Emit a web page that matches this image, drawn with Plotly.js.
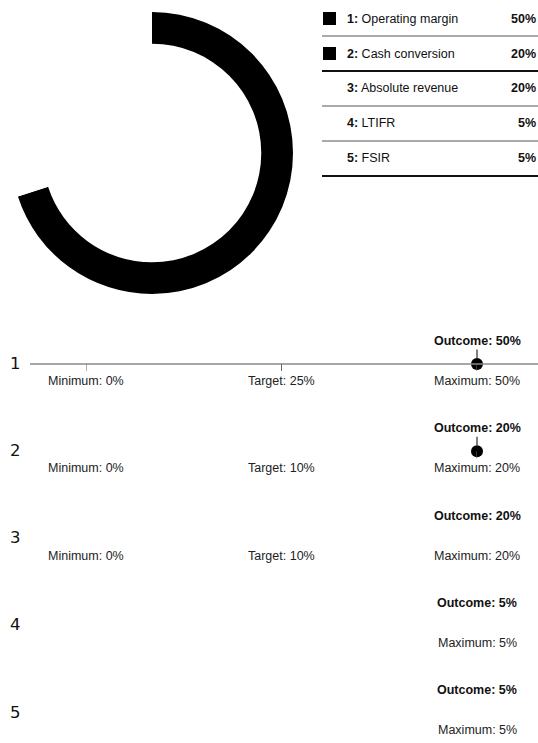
<!DOCTYPE html>
<html>
<head>
<meta charset="utf-8">
<script src="https://cdn.plot.ly/plotly-3.0.1.min.js"></script>
<style>html,body{margin:0;padding:0;background:#fff;}#chart{width:538px;height:743px;}</style>
</head>
<body>
<div id="chart"></div>
<script>
// ---- data ----
const rowNums = ['1', '2', '3', '4', '5'];
const metricNames = ['Operating margin', 'Cash conversion', 'Absolute revenue', 'LTIFR', 'FSIR'];
const weights = [50, 20, 20, 5, 5];
const sliceColors = ['#000000', '#000000', '#ffffff', '#ffffff', '#ffffff'];
const minimums = [0, 0, 0, null, null];
const targets = [25, 10, 10, null, null];
const maximums = [50, 20, 20, 5, 5];
const outcomes = [50, 20, 20, 5, 5];
const dotShown = [true, true, false, false, false];
const axisShown = [true, false, false, false, false];

// ---- layout helpers ----
const W = 538, H = 743;
const px = x => x / W;
const py = y => 1 - y / H;
const FONT = 'Liberation Sans, Arial, sans-serif';
const FS = 12.5;

const traces = [];
const annotations = [];
const shapes = [];

// donut
traces.push({
  type: 'pie',
  values: weights,
  labels: rowNums,
  sort: false,
  direction: 'clockwise',
  rotation: 0,
  hole: 0.775,
  textinfo: 'none',
  hoverinfo: 'none',
  marker: {colors: sliceColors, line: {width: 0}},
  domain: {x: [px(11), px(293)], y: [py(294), py(12)]},
  showlegend: false
});

// table
const tblX0 = 322, tblX1 = 538, rowH = 35, firstRowY = 18.5;
metricNames.forEach((name, i) => {
  const cy = firstRowY + rowH * i;
  shapes.push({type: 'rect', xref: 'paper', yref: 'paper',
    x0: px(323), x1: px(336), y0: py(cy + 6.5), y1: py(cy - 6.5),
    fillcolor: sliceColors[i], line: {width: 0}});
  annotations.push({xref: 'paper', yref: 'paper', x: px(345), y: py(cy),
    xanchor: 'left', yanchor: 'middle', showarrow: false,
    text: '<b>' + rowNums[i] + ':</b> ' + name,
    font: {family: FONT, size: FS, color: '#111'}});
  annotations.push({xref: 'paper', yref: 'paper', x: px(538), y: py(cy),
    xanchor: 'right', yanchor: 'middle', showarrow: false,
    text: '<b>' + weights[i] + '%</b>',
    font: {family: FONT, size: FS, color: '#111'}});
  const ly = cy + rowH / 2;
  const thick = (i === 1 || i === metricNames.length - 1);
  shapes.push({type: 'line', xref: 'paper', yref: 'paper',
    x0: px(tblX0), x1: px(tblX1), y0: py(ly), y1: py(ly),
    line: {color: thick ? '#111' : '#555', width: thick ? 2 : 1}});
});

// bullet rows
const rowTop = 364, rowStep = 87.25, areaTop = 320;
const layout = {
  width: W, height: H,
  margin: {l: 0, r: 0, t: 0, b: 0},
  paper_bgcolor: '#fff', plot_bgcolor: 'rgba(0,0,0,0)',
  showlegend: false,
  yaxis2: {domain: [0, py(areaTop)], range: [1 + (H - rowTop) / rowStep, 1 - (rowTop - areaTop) / rowStep],
    visible: false, fixedrange: true, anchor: 'x2'},
  annotations: annotations,
  shapes: shapes
};

maximums.forEach((mx, i) => {
  const k = i + 1;
  const xa = 'x' + (k + 1);
  layout['xaxis' + (k + 1)] = {domain: [px(86), px(477)], range: [0, mx], visible: false,
    fixedrange: true, anchor: 'y2'};

  // row number
  annotations.push({xref: 'paper', yref: 'y2', x: px(15), y: k, yshift: 1,
    xanchor: 'center', yanchor: 'middle', showarrow: false, text: rowNums[i],
    font: {family: 'DejaVu Sans, sans-serif', size: 16.5, color: '#111'}});

  // axis line and ticks
  if (axisShown[i]) {
    shapes.push({type: 'line', xref: 'paper', yref: 'y2', x0: px(30), x1: 1, y0: k, y1: k,
      line: {color: '#8a8a8a', width: 1.5}});
    [minimums[i], targets[i], maximums[i]].forEach(v => {
      if (v === null) return;
      shapes.push({type: 'line', xref: xa, yref: 'y2', ysizemode: 'pixel', yanchor: k,
        x0: v, x1: v, y0: 0, y1: -7, line: {color: '#666', width: 1}});
    });
  } else if (dotShown[i]) {
    shapes.push({type: 'line', xref: xa, yref: 'y2', ysizemode: 'pixel', yanchor: k,
      x0: maximums[i], x1: maximums[i], y0: 0, y1: -7, line: {color: '#666', width: 1}});
  }

  // bottom labels
  const labs = [['Minimum', minimums[i]], ['Target', targets[i]], ['Maximum', maximums[i]]];
  labs.forEach(([name, v]) => {
    if (v === null) return;
    annotations.push({xref: xa, yref: 'y2', x: v, y: k, yshift: -17,
      xanchor: 'center', yanchor: 'middle', showarrow: false,
      text: name + ': ' + v + '%',
      font: {family: FONT, size: FS, color: '#222'}});
  });

  // outcome
  if (dotShown[i]) {
    traces.push({type: 'scatter', mode: 'markers', x: [outcomes[i]], y: [k],
      xaxis: xa, yaxis: 'y2', hoverinfo: 'none', cliponaxis: false,
      marker: {color: '#000', size: 12}});
    annotations.push({xref: xa, yref: 'y2', x: outcomes[i], y: k,
      showarrow: true, ax: 0, ay: -23, arrowhead: 0, arrowwidth: 1, arrowcolor: '#000',
      standoff: 6, text: '<b>Outcome: ' + outcomes[i] + '%</b>',
      font: {family: FONT, size: FS, color: '#111'}});
  } else {
    annotations.push({xref: xa, yref: 'y2', x: outcomes[i], y: k, yshift: 23,
      xanchor: 'center', yanchor: 'middle', showarrow: false,
      text: '<b>Outcome: ' + outcomes[i] + '%</b>',
      font: {family: FONT, size: FS, color: '#111'}});
  }
});

Plotly.newPlot('chart', traces, layout, {displayModeBar: false, staticPlot: true});
</script>
</body>
</html>
